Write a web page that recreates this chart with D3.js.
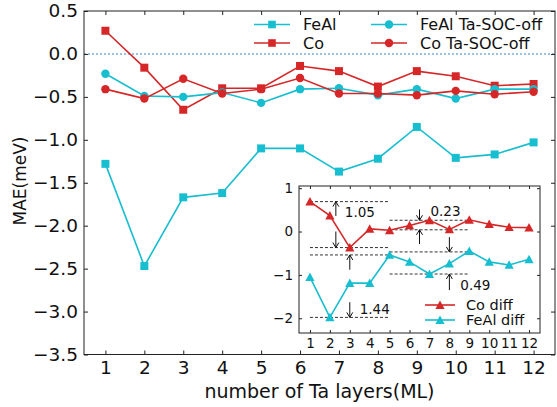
<!DOCTYPE html>
<html>
<head>
<meta charset="utf-8">
<script src="https://cdn.jsdelivr.net/npm/d3@7"></script>
<style>
  body { margin: 0; background: #fff; }
  text { font-family: "DejaVu Sans", sans-serif; fill: #111; }
</style>
</head>
<body>
<svg id="chart" width="557" height="407"></svg>
<script>
// number of Ta layers
const layers = [1, 2, 3, 4, 5, 6, 7, 8, 9, 10, 11, 12];
// MAE (meV), main panel
const feal = [-1.28, -2.47, -1.67, -1.62, -1.10, -1.10, -1.37, -1.22, -0.85, -1.21, -1.17, -1.03];
const co = [0.27, -0.16, -0.65, -0.40, -0.40, -0.14, -0.20, -0.38, -0.20, -0.26, -0.37, -0.35];
const fealOff = [-0.23, -0.49, -0.50, -0.45, -0.57, -0.41, -0.40, -0.48, -0.41, -0.52, -0.41, -0.41];
const coOff = [-0.41, -0.52, -0.29, -0.46, -0.41, -0.28, -0.46, -0.46, -0.48, -0.43, -0.47, -0.44];
// inset: differences
const coDiff = [0.69, 0.37, -0.37, 0.06, 0.03, 0.14, 0.26, 0.05, 0.27, 0.17, 0.10, 0.09];
const fealDiff = [-1.05, -1.98, -1.19, -1.19, -0.54, -0.70, -0.98, -0.74, -0.45, -0.70, -0.77, -0.64];
const mainYTicks = [0.5, 0.0, -0.5, -1.0, -1.5, -2.0, -2.5, -3.0, -3.5];
const insetYTicks = [1, 0, -1, -2];
// inset guide lines [y, x from, x to], arrows [x, y from, y to], labels [x, y, text]
const guideLines = [[0.69, 1, 5], [-0.37, 1, 5], [-0.54, 1, 5], [-1.98, 1, 5],
                    [0.26, 5, 9], [0.04, 5, 9], [-0.47, 5, 9], [-0.98, 5, 9]];
const arrows = [[2.3, 0.36, 0.69], [2.3, 0.0, -0.37], [3.0, -0.88, -0.54], [3.0, -1.63, -1.98],
                [6.5, 0.51, 0.26], [6.5, -0.29, 0.04], [8.0, -0.13, -0.47], [8.0, -1.35, -0.98]];
const gapLabels = [[2.75, 0.44, '1.05'], [3.5, -1.78, '1.44'], [7.05, 0.47, '0.23'], [8.55, -1.23, '0.49']];

const CYAN = '#17becf', RED = '#d62728';
const svg = d3.select('#chart');

const m = { left: 84, right: 555, top: 11, bottom: 354.5 };
const x = d3.scaleLinear().domain([0.45, 12.55]).range([m.left, m.right]);
const y = d3.scaleLinear().domain([-3.5, 0.5]).range([m.bottom, m.top]);

function square(s) { return `M${-s},${-s}h${2 * s}v${2 * s}h${-2 * s}Z`; }
function tri(s) { return `M0,${-s}L${s},${s * 0.85}L${-s},${s * 0.85}Z`; }
const dot = d3.symbol(d3.symbolCircle, 56)();

function frameAxes(g, sx, sy, xt, yt, opt) {
  g.append('g').attr('transform', `translate(0,${sy.range()[0]})`)
    .call(d3.axisBottom(sx).tickValues(xt).tickFormat(d3.format('d')).tickSizeInner(-opt.tick).tickSizeOuter(0).tickPadding(opt.padX))
    .call(a => a.selectAll('text').style('font-size', opt.fs + 'px'));
  g.append('g').attr('transform', `translate(0,${sy.range()[1]})`)
    .call(d3.axisTop(sx).tickValues(xt).tickFormat('').tickSizeInner(-opt.tick).tickSizeOuter(0));
  g.append('g').attr('transform', `translate(${sx.range()[0]},0)`)
    .call(d3.axisLeft(sy).tickValues(yt).tickFormat(opt.fmtY).tickSizeInner(-opt.tick).tickSizeOuter(0).tickPadding(opt.padY))
    .call(a => a.selectAll('text').style('font-size', opt.fs + 'px'));
  g.append('g').attr('transform', `translate(${sx.range()[1]},0)`)
    .call(d3.axisRight(sy).tickValues(yt).tickFormat('').tickSizeInner(-opt.tick).tickSizeOuter(0));
  g.selectAll('.domain').remove();
  g.selectAll('.tick line').attr('stroke', '#222');
  g.selectAll('.tick text').attr('fill', '#111').style('font-family', '"DejaVu Sans", sans-serif');
  g.append('rect')
    .attr('x', sx.range()[0]).attr('y', sy.range()[1])
    .attr('width', sx.range()[1] - sx.range()[0]).attr('height', sy.range()[0] - sy.range()[1])
    .attr('fill', 'none').attr('stroke', '#222').attr('stroke-width', 1);
}

function series(g, sx, sy, vals, color, marker) {
  const pts = layers.map((l, i) => [l, vals[i]]);
  g.append('path').datum(pts)
    .attr('fill', 'none').attr('stroke', color).attr('stroke-width', 1.6)
    .attr('d', d3.line().x(d => sx(d[0])).y(d => sy(d[1])));
  g.selectAll(null).data(pts).enter().append('path')
    .attr('transform', d => `translate(${sx(d[0])},${sy(d[1])})`)
    .attr('d', marker).attr('fill', color);
}

// ---- main panel
const main = svg.append('g');
main.append('line')
  .attr('x1', m.left).attr('x2', m.right).attr('y1', y(0)).attr('y2', y(0))
  .attr('stroke', '#7aaedc').attr('stroke-width', 1.5).attr('stroke-dasharray', '2,2');

series(main, x, y, feal, CYAN, square(4));
series(main, x, y, co, RED, square(4));
series(main, x, y, fealOff, CYAN, dot);
series(main, x, y, coOff, RED, dot);

frameAxes(main, x, y, layers, mainYTicks, { tick: 4, fs: 18.5, padX: 6, padY: 6, fmtY: d3.format('.1f') });

main.append('text').attr('x', (m.left + m.right) / 2).attr('y', 398)
  .attr('text-anchor', 'middle').style('font-size', '19px').text('number of Ta layers(ML)');
main.append('text').attr('transform', 'translate(20,181) rotate(-90)')
  .attr('text-anchor', 'middle').attr('dy', '0.35em').style('font-size', '17px').text('MAE(meV)');

// main legend
const legItems = [
  { name: 'FeAl', color: CYAN, mk: square(3.8), lx: 254, ly: 24.5 },
  { name: 'Co', color: RED, mk: square(3.8), lx: 254, ly: 43 },
  { name: 'FeAl Ta-SOC-off', color: CYAN, mk: dot, lx: 371, ly: 24.5 },
  { name: 'Co Ta-SOC-off', color: RED, mk: dot, lx: 371, ly: 43 }
];
const leg = main.append('g').selectAll('g').data(legItems).enter().append('g')
  .attr('transform', d => `translate(${d.lx},${d.ly})`);
leg.append('line').attr('x1', 0).attr('x2', 36).attr('stroke', d => d.color).attr('stroke-width', 1.6);
leg.append('path').attr('transform', 'translate(18,0)').attr('d', d => d.mk).attr('fill', d => d.color);
leg.append('text').attr('x', 49).attr('dy', '0.36em').style('font-size', '16px').text(d => d.name);

// ---- inset
const n = { left: 299, right: 540, top: 186, bottom: 333 };
const xi = d3.scaleLinear().domain([0.45, 12.55]).range([n.left, n.right]);
const yi = d3.scaleLinear().domain([-2.34, 1.05]).range([n.bottom, n.top]);
const inset = svg.append('g');
inset.append('rect').attr('x', n.left).attr('y', n.top)
  .attr('width', n.right - n.left).attr('height', n.bottom - n.top).attr('fill', '#fff');

inset.selectAll(null).data(guideLines).enter().append('line')
  .attr('x1', d => xi(d[1])).attr('x2', d => xi(d[2]))
  .attr('y1', d => yi(d[0])).attr('y2', d => yi(d[0]))
  .attr('stroke', '#333').attr('stroke-width', 1).attr('stroke-dasharray', '3,2');

svg.append('defs').append('marker').attr('id', 'head')
  .attr('viewBox', '-6 -4 7 8').attr('refX', 0).attr('refY', 0)
  .attr('markerWidth', 7).attr('markerHeight', 8).attr('markerUnits', 'userSpaceOnUse')
  .attr('orient', 'auto')
  .append('path').attr('d', 'M-5,-3L0,0L-5,3').attr('fill', 'none').attr('stroke', '#111').attr('stroke-width', 1);
inset.selectAll(null).data(arrows).enter().append('line')
  .attr('x1', d => xi(d[0])).attr('x2', d => xi(d[0]))
  .attr('y1', d => yi(d[1])).attr('y2', d => yi(d[2]))
  .attr('stroke', '#111').attr('stroke-width', 1).attr('marker-end', 'url(#head)');
inset.selectAll(null).data(gapLabels).enter().append('text')
  .attr('x', d => xi(d[0])).attr('y', d => yi(d[1])).attr('dy', '0.36em')
  .style('font-size', '13.5px').text(d => d[2]);

series(inset, xi, yi, coDiff, RED, tri(4.6));
series(inset, xi, yi, fealDiff, CYAN, tri(4.6));

frameAxes(inset, xi, yi, layers, insetYTicks, { tick: 3, fs: 13.5, padX: 5, padY: 6, fmtY: d3.format('d') });

const ileg = inset.append('g').selectAll('g')
  .data([{ name: 'Co diff', color: RED, ly: 305 }, { name: 'FeAl diff', color: CYAN, ly: 320 }])
  .enter().append('g').attr('transform', d => `translate(425,${d.ly})`);
ileg.append('line').attr('x1', 0).attr('x2', 30).attr('stroke', d => d.color).attr('stroke-width', 1.6);
ileg.append('path').attr('transform', 'translate(15,0)').attr('d', tri(4.6)).attr('fill', d => d.color);
ileg.append('text').attr('x', 41).attr('dy', '0.36em').style('font-size', '14.5px').text(d => d.name);
</script>
</body>
</html>
